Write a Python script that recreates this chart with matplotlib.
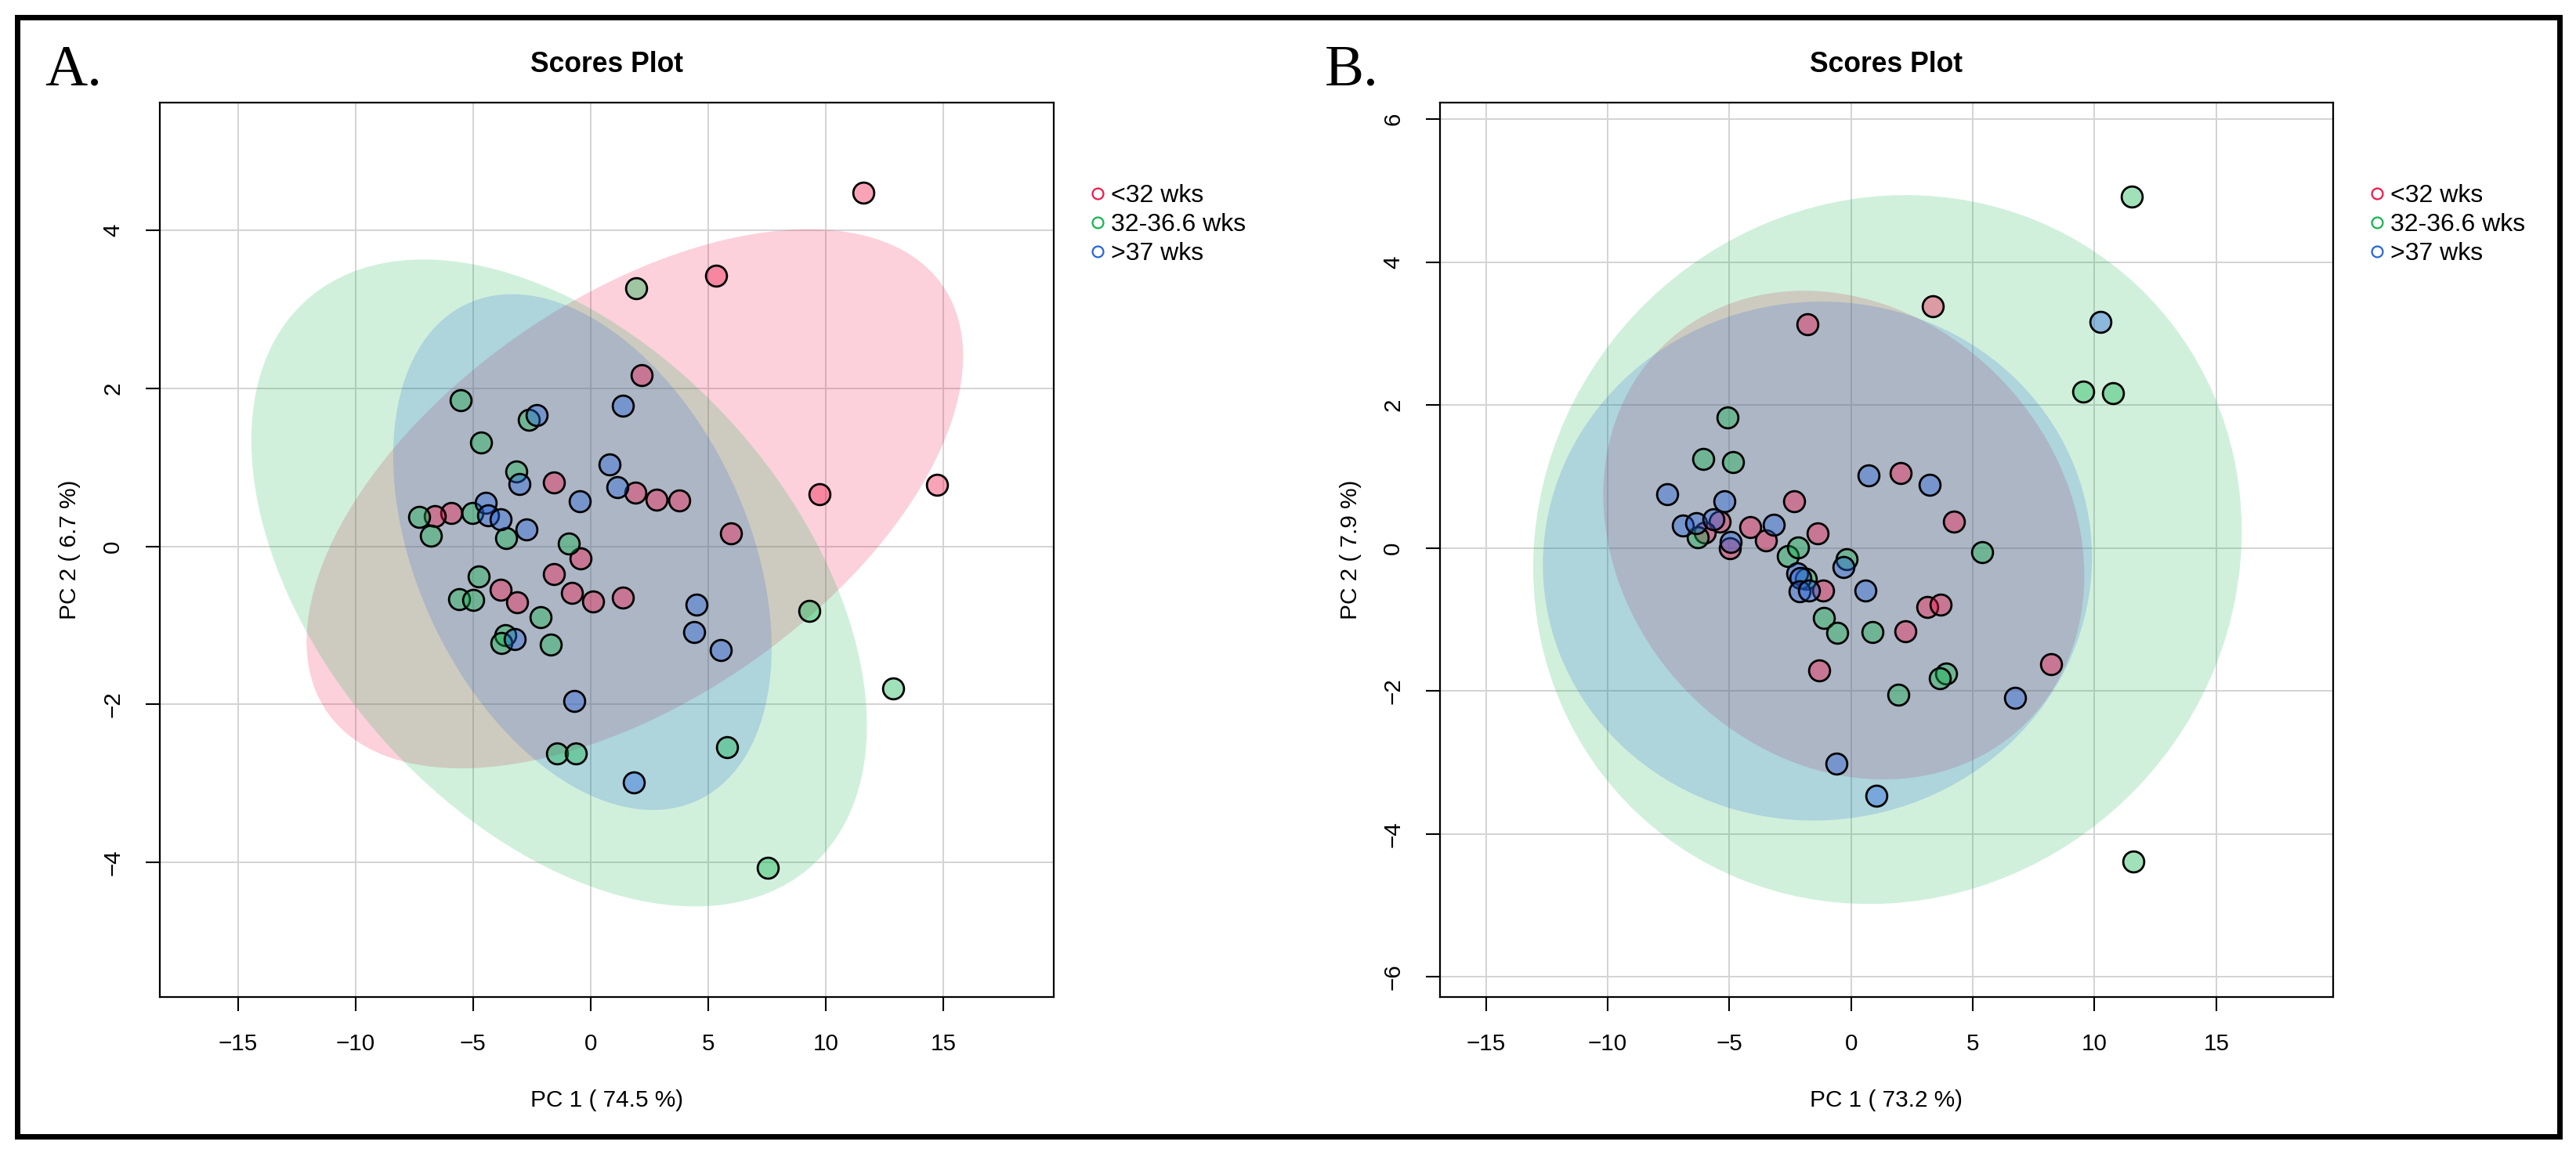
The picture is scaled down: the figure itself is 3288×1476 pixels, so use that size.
import numpy as np
import matplotlib
matplotlib.use("Agg")
import matplotlib.pyplot as plt
from matplotlib.patches import Ellipse, Rectangle
from matplotlib.lines import Line2D

plt.rcParams['font.family'] = ['Liberation Sans', 'DejaVu Sans']

### groups
groups = ["<32 wks", "32-36.6 wks", ">37 wks"]
colors = ["#F0194B", "#14B450", "#2864DC"]

### panel A scores (PC1 74.5 %, PC2 6.7 %)
a_red_x = [11.62, 5.35, 2.18, -1.56, 1.90, 2.82, 3.77, 9.75, 14.75, 5.99,
           -5.91, -6.63, -0.41, -1.56, -3.82, -0.78, -3.13, 0.11, 1.37]
a_red_y = [4.47, 3.42, 2.16, 0.81, 0.68, 0.59, 0.58, 0.66, 0.78, 0.16,
           0.42, 0.38, -0.15, -0.35, -0.55, -0.59, -0.71, -0.70, -0.65]
a_green_x = [1.94, -5.53, -4.65, -2.61, -3.16, -7.30, -5.02, -6.80, -3.58, -0.91,
             -4.77, -5.60, -5.00, -2.13, -3.61, -3.80, -1.69, 9.30, 12.89, 5.81,
             -1.44, -0.63, 7.54]
a_green_y = [3.26, 1.85, 1.31, 1.60, 0.95, 0.37, 0.42, 0.13, 0.10, 0.03,
             -0.38, -0.67, -0.68, -0.90, -1.12, -1.22, -1.24, -0.82, -1.80, -2.54,
             -2.62, -2.62, -4.07]
a_blue_x = [-2.29, 1.37, 0.81, 1.13, -3.04, -0.47, -4.47, -4.36, -3.84, -2.74,
            4.51, 4.40, 5.53, -3.21, -0.70, 1.83]
a_blue_y = [1.66, 1.78, 1.04, 0.75, 0.79, 0.57, 0.55, 0.39, 0.34, 0.21,
            -0.74, -1.08, -1.31, -1.17, -1.96, -2.99]

### panel B scores (PC1 73.2 %, PC2 7.9 %)
b_red_x = [3.36, -1.81, 2.03, -2.34, 4.21, -5.40, -4.16, -1.37, -3.49, -4.97,
           -6.00, -1.14, 3.13, 3.67, 2.24, -1.30, 8.23]
b_red_y = [3.38, 3.13, 1.05, 0.65, 0.37, 0.37, 0.29, 0.21, 0.11, 0.00,
           0.22, -0.59, -0.82, -0.79, -1.16, -1.71, -1.62]
b_green_x = [11.52, 9.55, 10.77, -5.09, -6.07, -4.86, -6.29, 5.39, -2.59, -2.18,
             -0.19, -1.86, -1.13, -0.56, 0.88, 3.91, 3.64, 1.94, 11.58]
b_green_y = [4.92, 2.19, 2.17, 1.83, 1.25, 1.20, 0.15, -0.06, -0.11, 0.01,
             -0.16, -0.43, -0.98, -1.19, -1.18, -1.75, -1.82, -2.05, -4.38]
b_blue_x = [10.23, 0.73, 3.24, -7.56, -5.20, -6.92, -6.36, -5.65, -3.17, -4.94,
            -2.20, -2.08, -0.32, -2.12, -1.74, 0.59, 6.74, -0.59, 1.03]
b_blue_y = [3.16, 1.02, 0.88, 0.75, 0.66, 0.31, 0.35, 0.40, 0.33, 0.09,
            -0.35, -0.42, -0.27, -0.61, -0.59, -0.59, -2.09, -3.02, -3.46]

panels = [
    dict(label="A.", pos=[0.0620, 0.1375, 0.3470, 0.7737],
         xlim=(-18.33, 19.70), ylim=(-5.70, 5.61), yticks=[-4, -2, 0, 2, 4],
         xlab="PC 1 ( 74.5 %)", ylab="PC 2 ( 6.7 %)",
         data=[(a_red_x, a_red_y), (a_green_x, a_green_y), (a_blue_x, a_blue_y)]),
    dict(label="B.", pos=[0.5590, 0.1375, 0.3467, 0.7737],
         xlim=(-16.89, 19.80), ylim=(-6.28, 6.23), yticks=[-6, -4, -2, 0, 2, 4, 6],
         xlab="PC 1 ( 73.2 %)", ylab="PC 2 ( 7.9 %)",
         data=[(b_red_x, b_red_y), (b_green_x, b_green_y), (b_blue_x, b_blue_y)]),
]


def conf_ellipse(x, y, color):
    # 95% normal confidence ellipse from the group scores
    x = np.asarray(x)
    y = np.asarray(y)
    cov = np.cov(x, y)
    vals, vecs = np.linalg.eigh(cov)
    r = np.sqrt(-2 * np.log(0.05))
    angle = np.degrees(np.arctan2(vecs[1, 1], vecs[0, 1]))
    return Ellipse((x.mean(), y.mean()), 2 * r * np.sqrt(vals[1]), 2 * r * np.sqrt(vals[0]),
                   angle=angle, facecolor=color, alpha=0.2, edgecolor="none", zorder=1)


fig = plt.figure(figsize=(32.88, 14.76), dpi=100)

for p in panels:
    ax = fig.add_axes(p["pos"])
    ax.set_xlim(*p["xlim"])
    ax.set_ylim(*p["ylim"])
    ax.set_xticks([-15, -10, -5, 0, 5, 10, 15])
    ax.set_yticks(p["yticks"])
    ax.grid(True, color="#D3D3D3", linewidth=1.4, zorder=0)
    ax.set_axisbelow(True)

    for (x, y), c in zip(p["data"], colors):
        ax.add_patch(conf_ellipse(x, y, c))
    for (x, y), c in zip(p["data"], colors):
        ax.scatter(x, y, s=370, facecolor=matplotlib.colors.to_rgba(c, 0.4),
                   edgecolor="black", linewidth=2.0, zorder=3)

    for sp in ax.spines.values():
        sp.set_linewidth(1.6)
    ax.tick_params(length=13, width=1.5, labelsize=21.3, pad=20)
    plt.setp(ax.get_yticklabels(), rotation=90, va="center")

    ax.set_title("Scores Plot", fontsize=25.6, fontweight="bold", pad=28)
    ax.set_xlabel(p["xlab"], fontsize=21.4)
    ax.set_ylabel(p["ylab"], fontsize=21.4)
    ax.xaxis.set_label_coords(0.5, -0.103)
    ax.yaxis.set_label_coords(-0.088, 0.5)

    handles = [Line2D([], [], marker="o", linestyle="none", markersize=10,
                      markerfacecolor="none", markeredgecolor=c, markeredgewidth=1.6)
               for c in colors]
    ax.legend(handles, groups, loc="upper left", bbox_to_anchor=(1.042, 0.909),
              frameon=False, fontsize=23, handlelength=0.5, handletextpad=0.3,
              labelspacing=0.22, borderpad=0, borderaxespad=0)

    fig.text(p["pos"][0] - 0.0447, 0.9268, p["label"], fontsize=54,
             family=["Liberation Serif", "DejaVu Serif"], ha="left", va="baseline")

fig.patches.append(Rectangle((0.0067, 0.0169), 0.9869, 0.9682, transform=fig.transFigure,
                             fill=False, edgecolor="black", linewidth=5))

fig.savefig("out.png", dpi=100, facecolor="white")
